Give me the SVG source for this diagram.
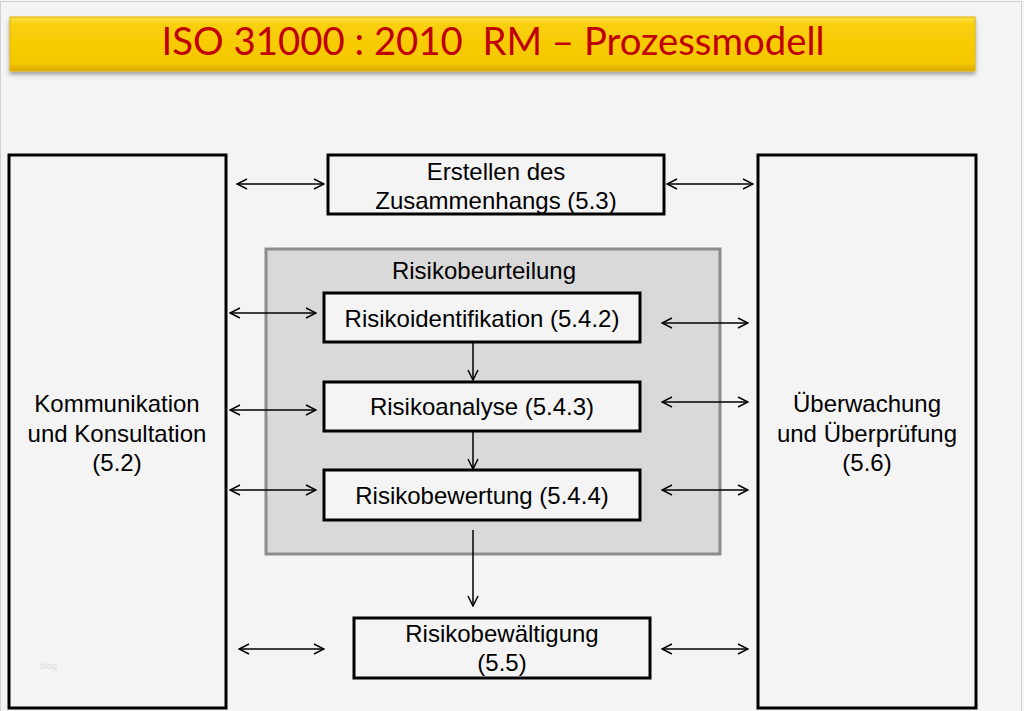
<svg xmlns="http://www.w3.org/2000/svg" width="1024" height="711" viewBox="0 0 1024 711">
<style>
.box{fill:#f4f4f4;stroke:#000;stroke-width:3}
.t{font-family:"Liberation Sans",Arial,sans-serif;font-size:24px;fill:#000;text-anchor:middle}
.c{stroke:#000;stroke-width:1.5;fill:none}
</style>
<defs>
<linearGradient id="yg" x1="0" y1="0" x2="0" y2="1">
<stop offset="0" stop-color="#fbe04a"/>
<stop offset="0.15" stop-color="#f9cf0a"/>
<stop offset="0.85" stop-color="#f5c800"/>
<stop offset="1" stop-color="#d9a800"/>
</linearGradient>
<filter id="sh" x="-5%" y="-20%" width="110%" height="150%">
<feDropShadow dx="0" dy="3" stdDeviation="2" flood-color="#000" flood-opacity="0.35"/>
</filter>
<marker id="ah" viewBox="0 0 12 12" refX="11" refY="6" markerWidth="12" markerHeight="12" markerUnits="userSpaceOnUse" orient="auto-start-reverse">
<path d="M1,1 L11,6 L1,11" fill="none" stroke="#000" stroke-width="1.5"/>
</marker>
</defs>
<rect x="0" y="0" width="1024" height="711" fill="#f4f4f4"/>
<rect x="0.5" y="1.5" width="1021" height="712" fill="none" stroke="#d0d0d0" stroke-width="1"/>
<g id="title">
<rect x="10" y="17" width="965" height="54" fill="url(#yg)" stroke="#e0b400" stroke-width="1" filter="url(#sh)"/>
<text x="493" y="55" font-family="Lato,'Open Sans',sans-serif" font-size="38" fill="#c00000" text-anchor="middle" textLength="663" lengthAdjust="spacingAndGlyphs" xml:space="preserve">ISO 31000 : 2010  RM – Prozessmodell</text>
</g>
<g id="kommunikation">
<rect class="box" x="9" y="155" width="217" height="553"/>
<text class="t" x="117" y="412">Kommunikation</text>
<text class="t" x="117" y="442">und Konsultation</text>
<text class="t" x="117" y="471">(5.2)</text>
<text x="40" y="669" font-family="'Liberation Sans',sans-serif" font-size="9" fill="#dcdcdc">blog</text>
</g>
<g id="ueberwachung">
<rect class="box" x="758" y="155" width="218" height="553"/>
<text class="t" x="867" y="412">Überwachung</text>
<text class="t" x="867" y="442">und Überprüfung</text>
<text class="t" x="867" y="471">(5.6)</text>
</g>
<g id="zusammenhang">
<rect class="box" x="328" y="155" width="336" height="59"/>
<text class="t" x="496" y="180">Erstellen des</text>
<text class="t" x="496" y="209">Zusammenhangs (5.3)</text>
</g>
<g id="risikobeurteilung">
<rect x="266" y="249" width="454" height="305" fill="#d9d9d9" stroke="#8c8c8c" stroke-width="3"/>
<text class="t" x="484" y="279">Risikobeurteilung</text>
</g>
<g id="identifikation">
<rect class="box" x="324" y="293" width="316" height="49"/>
<text class="t" x="482" y="327">Risikoidentifikation (5.4.2)</text>
</g>
<g id="analyse">
<rect class="box" x="324" y="382" width="316" height="49"/>
<text class="t" x="482" y="415">Risikoanalyse (5.4.3)</text>
</g>
<g id="bewertung">
<rect class="box" x="324" y="470" width="316" height="50"/>
<text class="t" x="482" y="504">Risikobewertung (5.4.4)</text>
</g>
<g id="bewaeltigung">
<rect class="box" x="354" y="618" width="296" height="60"/>
<text class="t" x="502" y="642">Risikobewältigung</text>
<text class="t" x="502" y="671">(5.5)</text>
</g>
<g id="connectors">
<line class="c" x1="237" y1="184" x2="324" y2="184" marker-start="url(#ah)" marker-end="url(#ah)"/>
<line class="c" x1="667" y1="184" x2="753" y2="184" marker-start="url(#ah)" marker-end="url(#ah)"/>
<line class="c" x1="230" y1="313" x2="316" y2="313" marker-start="url(#ah)" marker-end="url(#ah)"/>
<line class="c" x1="662" y1="323" x2="748" y2="323" marker-start="url(#ah)" marker-end="url(#ah)"/>
<line class="c" x1="230" y1="410" x2="316" y2="410" marker-start="url(#ah)" marker-end="url(#ah)"/>
<line class="c" x1="662" y1="402" x2="748" y2="402" marker-start="url(#ah)" marker-end="url(#ah)"/>
<line class="c" x1="230" y1="490" x2="316" y2="490" marker-start="url(#ah)" marker-end="url(#ah)"/>
<line class="c" x1="662" y1="490" x2="748" y2="490" marker-start="url(#ah)" marker-end="url(#ah)"/>
<line class="c" x1="239" y1="649" x2="324" y2="649" marker-start="url(#ah)" marker-end="url(#ah)"/>
<line class="c" x1="662" y1="649" x2="748" y2="649" marker-start="url(#ah)" marker-end="url(#ah)"/>
<line class="c" x1="473" y1="342" x2="473" y2="380" marker-end="url(#ah)"/>
<line class="c" x1="473" y1="432" x2="473" y2="469" marker-end="url(#ah)"/>
<line class="c" x1="473" y1="530" x2="473" y2="606" marker-end="url(#ah)"/>
</g>
</svg>
